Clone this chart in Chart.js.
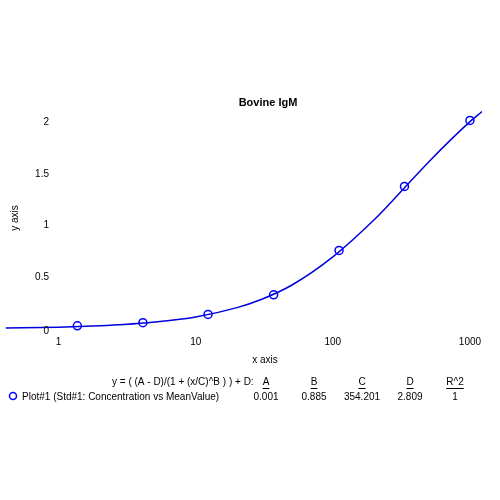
<!DOCTYPE html><html><head><script src="https://cdn.jsdelivr.net/npm/chart.js@4"></script>
<style>body{margin:0;background:#fff}</style></head><body><canvas id="c" width="500" height="500" style="width:500px;height:500px"></canvas>
<script>
const pointX=[1.37,4.12,12.3,37,111,333,1000];
const pointY=[0.03,0.06,0.14,0.33,0.76,1.38,2.02];
const curveX=[0.41,1,2,3,5,10,20,30,50,100,200,300,500,1000,1224];
const curveY=[0.008,0.017,0.030,0.042,0.066,0.116,0.206,0.285,0.423,0.698,1.057,1.302,1.618,2.008,2.106];
const xTicks=[1,10,100,1000];
const yTicks=[0,0.5,1,1.5,2];
const F='Arial, "Liberation Sans", sans-serif';
const deco={id:'deco',afterDraw(ch){const c=ch.ctx,xs=ch.scales.x,ys=ch.scales.y;c.save();c.fillStyle='#000';
c.font='bold 11px '+F;c.textAlign='center';c.fillText('Bovine IgM',268,106);
c.font='10px '+F;c.textAlign='right';c.textBaseline='middle';
yTicks.forEach(v=>c.fillText(String(v),49,ys.getPixelForValue(v)+(v===0?2:0)));
c.textAlign='center';xTicks.forEach(v=>c.fillText(String(v),xs.getPixelForValue(v),342));
c.fillText('x axis',265,360);
c.save();c.translate(15,218);c.rotate(-Math.PI/2);c.fillText('y axis',0,0);c.restore();
c.textAlign='left';c.fillText('y = ( (A - D)/(1 + (x/C)^B ) ) + D:',112,382);
c.fillText('Plot#1 (Std#1: Concentration vs MeanValue)',22,397);
const hd=['A','B','C','D','R^2'],vals=['0.001','0.885','354.201','2.809','1'],cx=[266,314,362,410,455];
c.textAlign='center';hd.forEach((h,i)=>{c.fillText(h,cx[i],382);const w=c.measureText(h).width;c.fillRect(cx[i]-w/2,388,w,1);c.fillText(vals[i],cx[i],397);});
c.strokeStyle='#0000ff';c.lineWidth=1.5;c.beginPath();c.arc(13,396,3.5,0,7);c.stroke();
c.restore();}};
new Chart(document.getElementById('c'),{type:'scatter',data:{datasets:[
{data:pointX.map((x,i)=>({x,y:pointY[i]})),pointRadius:4,pointBorderColor:'#0000ff',pointBackgroundColor:'rgba(0,0,0,0)',pointBorderWidth:1.5,showLine:false},
{data:curveX.map((x,i)=>({x,y:curveY[i]})),showLine:true,pointRadius:0,borderColor:'#0000dd',borderWidth:1.5,cubicInterpolationMode:'monotone'}]},
options:{responsive:false,animation:false,layout:{padding:{left:5,right:18,top:107,bottom:168}},
plugins:{legend:{display:false},tooltip:{enabled:false}},
scales:{x:{type:'logarithmic',min:0.41,max:1224,display:false},y:{min:-0.03,max:2.15,display:false}}},plugins:[deco]});
</script></body></html>
